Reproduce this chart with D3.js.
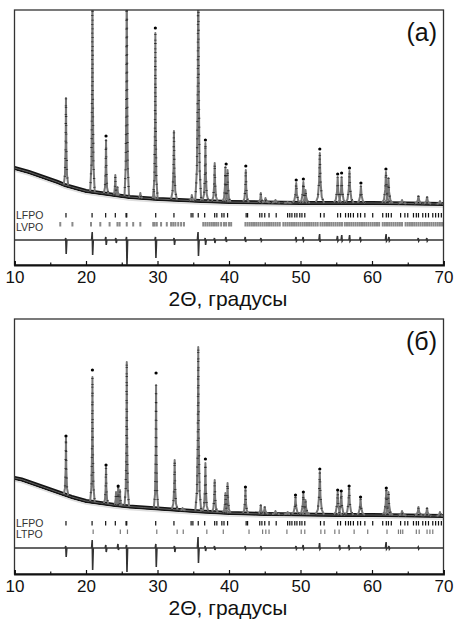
<!DOCTYPE html>
<html><head><meta charset="utf-8">
<script src="https://cdn.jsdelivr.net/npm/d3@7"></script>
<style>body{margin:0;background:#fff}svg{display:block}</style>
</head><body>
<svg id="c" width="454" height="624"></svg>
<script>
// ---------- DATA ----------
const xTicks = [10, 20, 30, 40, 50, 60, 70];
const xMinorTicks = [15, 25, 35, 45, 55, 65];
const axisTitle = "2Θ, градусы";
const panelLabels = ["(a)", "(б)"];
const phaseNamesA = ["LFPO", "LVPO"];
const phaseNamesB = ["LFPO", "LTPO"];

// panel (a): observed/calculated baseline and background [2θ, I]
const baseA = [[10,97],[11,95],[12,93],[13,90.5],[14,88],[15,85.5],[16,83],[17,80],[18,78],[19,76],[20,74],[21,73],[22,72],[24,70],[26,68],[28,67],[30,66],[33,65],[36,64],[40,63],[45,62.5],[50,62],[55,62],[60,62],[65,61.5],[70,61]];
const bgA = [[10,94],[11,92],[12,90],[13,87.5],[14,85],[15,82.5],[16,80],[17,77],[18,75],[19,73],[20,71],[21,70],[22,69],[24,67],[26,65],[28,64],[30,63],[33,62],[36,61],[40,60],[45,59.5],[50,59],[55,59],[60,59],[65,58.5],[70,58]];
// peaks [2θ, peak intensity]
const peaksA = [[17.2,167],[20.9,300],[22.8,125],[24.1,90],[24.4,78],[25.7,320],[27.6,72],[29.5,74],[29.7,232],[32.3,134],[34.8,70],[35.7,330],[36.7,122],[38.0,102],[39.5,98],[39.8,95],[42.35,95],[44.45,72],[45.1,67],[46.5,65],[48.2,63],[49.4,82],[50.4,83],[50.7,75],[52.7,112],[55.2,88],[55.75,88],[56.85,94],[58.45,79],[61.95,93],[62.3,87],[64.2,65],[66.5,69],[67.7,68],[69.5,64]];
// observed points above calculated peaks
const marksA = [[22.8,129],[29.7,237],[36.7,125],[39.6,101],[42.35,99],[49.4,85],[50.4,86],[52.7,116],[55.2,91],[55.75,92],[56.85,97],[58.45,82],[61.95,96]];
// difference spikes [2θ, up, down]
const diffA = [[17.2,2,-14],[20.9,8,-15],[22.8,3,-5],[24.2,2,-3],[25.7,3,-26],[29.75,3,-18],[32.35,2,-5],[35.7,8,-16],[36.7,2,-5],[38.0,2,-3],[39.6,3,-2],[42.3,3,-2],[44.5,2,-1],[49.4,3,-1],[50.4,3,-1],[52.7,6,-2],[55.2,4,-1],[55.8,5,-1],[56.9,5,-1],[58.4,3,-1],[62.0,6,-1],[62.4,3,-1],[66.5,2,-1],[67.7,2,-1]];

// panel (б)
const baseB = [[10,96],[11,94.5],[12,92],[13,89.5],[14,87],[15,84.5],[16,82],[17,79.5],[18,77],[19,75],[20,73],[21,72],[22,71],[24,69],[26,67.5],[28,66.5],[30,65.5],[33,64],[36,62.5],[40,61],[45,60],[50,59.5],[55,59],[60,59],[65,58.5],[70,58]];
const bgB = [[10,93],[11,91.5],[12,89],[13,86.5],[14,84],[15,81.5],[16,79],[17,76.5],[18,74],[19,72],[20,70],[21,69],[22,68],[24,66],[26,64.5],[28,63.5],[30,62.5],[33,61],[36,59.5],[40,58],[45,57],[50,56.5],[55,56],[60,56],[65,55.5],[70,55]];
const peaksB = [[17.2,136],[20.9,197],[22.8,107],[24.2,82],[24.5,87],[24.75,84],[25.7,212],[29.8,189],[32.4,114],[33.5,66],[35.7,227],[36.7,111],[38.0,94],[39.5,81],[39.8,91],[42.3,85],[44.45,69],[45.0,67],[46.5,63],[48.2,62],[49.3,77],[50.4,80],[50.7,74],[52.7,102],[55.2,82],[55.7,81],[56.8,86],[58.4,75],[62.0,84],[62.3,82],[64.2,63],[66.5,67],[67.7,66],[69.5,62]];
const marksB = [[17.2,138],[20.9,204],[22.8,109],[24.5,88],[29.8,201],[36.7,115],[42.3,87],[49.3,79],[50.4,82],[52.7,105],[55.2,84],[55.7,83],[56.8,88],[58.4,77],[62.0,86]];
const diffB = [[17.2,2,-9],[20.9,8,-22],[22.8,3,-4],[24.5,4,-2],[25.7,3,-24],[29.8,4,-19],[32.4,2,-4],[35.7,11,-15],[36.7,2,-3],[38.0,2,-2],[42.3,2,-1],[44.5,2,-1],[49.4,2,-1],[50.4,3,-1],[52.7,5,-1],[55.5,3,-1],[56.8,3,-1],[58.4,2,-1],[62.0,6,-1],[62.4,2,-1],[66.5,1,-1]];

// Bragg reflection positions (2θ)
const braggLFPO = [17.2,20.85,22.75,24.1,25.6,25.7,29.75,32.3,34.7,34.95,35.7,36.6,38.0,38.3,39.0,39.3,39.8,42.4,42.6,44.3,44.6,45.0,45.6,46.6,48.2,48.5,48.8,49.2,49.5,49.9,50.2,50.6,52.8,53.3,55.2,55.6,56.3,56.7,57.0,57.4,58.0,58.4,59.0,60.1,61.5,62.0,62.3,62.7,64.0,64.6,65.0,65.8,66.2,66.5,67.1,67.5,67.9,68.5,68.9,69.3,69.7];
const braggLVPO = [16.4,18.1,20.7,22.0,23.3,24.4,24.7,25.7,26.6,27.6,29.4,29.6,29.9,30.5,31.3,31.9,32.2,32.5,32.9,33.3,33.7,36.4,36.7,37.0,37.3,37.6,37.9,38.2,38.5,38.9,39.3,39.6,40.0,40.3,
  42.3,42.6,42.9,43.2,43.5,43.8,44.1,44.4,44.7,45.0,45.3,45.6,45.9,46.2,46.5,46.8,47.1,
  47.6,47.9,48.2,48.5,48.8,49.1,49.4,49.7,50.0,50.3,50.6,50.9,51.2,51.5,51.8,52.1,52.4,
  52.8,53.1,53.4,53.7,54.0,54.3,54.6,54.9,55.2,55.5,55.8,
  56.2,56.5,56.8,57.1,57.4,57.7,58.0,58.3,58.6,58.9,59.2,59.5,59.8,60.1,60.4,60.7,61.0,
  61.5,61.8,62.1,62.4,62.7,63.0,63.3,63.6,63.9,64.2,
  64.7,65.0,65.3,65.6,65.9,66.2,66.5,66.8,67.1,67.4,67.7,68.0,68.3,68.6,68.9,69.2,69.5,69.8];
const braggLTPO = [21.0,24.8,25.8,29.9,32.75,33.6,36.9,39.2,42.8,44.7,45.15,45.6,48.1,50.1,50.6,52.85,53.4,54.8,55.4,57.5,59.4,62.1,63.7,64.0,64.3,66.2,66.6,67.7,68.1,68.5];

// ---------- DRAWING ----------
const svg = d3.select("#c");
const FONT = "'Liberation Sans', Arial, sans-serif";
const x = d3.scaleLinear().domain([10, 70]).range([14.5, 443.5]);

const panels = [
  {label: panelLabels[0], top: 10, bottom: 265, base: baseA, bg: bgA, peaks: peaksA, marks: marksA, diff: diffA, diffOff: 25,
   rows: [{name: phaseNamesA[0], ticks: braggLFPO, y: 213, ty: 218.5, color: "#111", w: 1.2},
          {name: phaseNamesA[1], ticks: braggLVPO, y: 222, ty: 230.5, color: "#8a8a8a", w: 2}],
   labelY: 41, titleY: 306},
  {label: panelLabels[1], top: 319, bottom: 574, base: baseB, bg: bgB, peaks: peaksB, marks: marksB, diff: diffB, diffOff: 26,
   rows: [{name: phaseNamesB[0], ticks: braggLFPO, y: 521, ty: 527, color: "#111", w: 1.2},
          {name: phaseNamesB[1], ticks: braggLTPO, y: 529.5, ty: 538, color: "#7a7a7a", w: 1.2}],
   labelY: 350, titleY: 615}
];

panels.forEach((P, i) => {
  const y = d3.scaleLinear().domain([0, 255]).range([P.bottom, P.top]);
  const baseScale = d3.scaleLinear().domain(P.base.map(d => d[0])).range(P.base.map(d => d[1]));
  const clipId = "clip" + i;
  svg.append("clipPath").attr("id", clipId).append("rect")
    .attr("x", x(10)).attr("y", P.top).attr("width", x(70) - x(10)).attr("height", P.bottom - P.top);
  const g = svg.append("g").attr("clip-path", `url(#${clipId})`);
  const line = d3.line().x(d => x(d[0])).y(d => y(d[1]));

  // observed band (dense points) along the baseline
  g.append("path").datum(P.base).attr("d", line)
    .attr("fill", "none").attr("stroke", "#141414").attr("stroke-width", 4.2);
  // background curve
  g.append("path").datum(P.bg).attr("d", line)
    .attr("fill", "none").attr("stroke", "#dedede").attr("stroke-width", 1.7);
  // calculated baseline
  g.append("path").datum(P.base).attr("d", line)
    .attr("fill", "none").attr("stroke", "#6a6a6a").attr("stroke-width", 0.9);

  // peaks
  const peakPts = ([p, top]) => {
    const b = baseScale(p);
    const hw = p < 30 ? 0.32 : (p < 45 ? 0.42 : 0.6);
    const h = top - b;
    return [[p - hw, b], [p - hw * 0.45, b + h * 0.12], [p - hw * 0.15, b + h * 0.45], [p, top],
            [p + hw * 0.15, b + h * 0.45], [p + hw * 0.45, b + h * 0.12], [p + hw, b]];
  };
  g.selectAll(".pk").data(P.peaks).join("path").attr("class", "pk")
    .attr("d", d => line(peakPts(d)))
    .attr("fill", "none").attr("stroke", "#777").attr("stroke-width", 2).attr("stroke-linejoin", "round");
  // observed points on peaks
  g.selectAll(".pko").data(P.peaks).join("path").attr("class", "pko")
    .attr("d", d => line(peakPts(d)))
    .attr("fill", "none").attr("stroke", "#2a2a2a").attr("stroke-width", 2.4).attr("stroke-dasharray", "0.8,8");
  // observed points above the calculated peaks
  g.selectAll(".mk").data(P.marks).join("circle").attr("class", "mk")
    .attr("cx", d => x(d[0])).attr("cy", d => y(d[1])).attr("r", 1.6).attr("fill", "#000");

  // Bragg positions
  P.rows.forEach(r => {
    g.selectAll(null).data(r.ticks).join("line")
      .attr("x1", d => x(d)).attr("x2", d => x(d))
      .attr("y1", r.y).attr("y2", r.y + 4.5)
      .attr("stroke", r.color).attr("stroke-width", r.w);
    svg.append("text").attr("x", 16).attr("y", r.ty).text(r.name)
      .attr("font-family", FONT).attr("font-size", 10.5).attr("fill", "#333");
  });

  // difference curve
  const dpts = [[10, 0]];
  P.diff.forEach(([p, up, dn]) => {
    dpts.push([p - 0.12, 0], [p - 0.03, up], [p + 0.03, dn], [p + 0.12, 0]);
  });
  dpts.push([70, 0]);
  g.append("path").datum(dpts)
    .attr("d", d3.line().x(d => x(d[0])).y(d => y(P.diffOff + d[1])))
    .attr("fill", "none").attr("stroke", "#333").attr("stroke-width", 1.6);

  // frame
  svg.append("rect").attr("x", x(10)).attr("y", P.top)
    .attr("width", x(70) - x(10)).attr("height", P.bottom - P.top)
    .attr("fill", "none").attr("stroke", "#333").attr("stroke-width", 1.3);

  // x axis (inward ticks)
  const ax = svg.append("g").attr("transform", `translate(0,${P.bottom})`)
    .call(d3.axisBottom(x).tickValues(xTicks).tickSize(-4).tickPadding(6).tickFormat(d3.format("d")));
  ax.select(".domain").attr("stroke", "#111").attr("stroke-width", 1.8);
  ax.selectAll(".tick line").attr("stroke", "#111").attr("stroke-width", 1.2);
  ax.selectAll("text").attr("font-family", FONT).attr("font-size", 17).attr("fill", "#111");
  const axm = svg.append("g").attr("transform", `translate(0,${P.bottom})`)
    .call(d3.axisBottom(x).tickValues(xMinorTicks).tickSize(-2.5).tickFormat(""));
  axm.select(".domain").remove();
  axm.selectAll(".tick line").attr("stroke", "#111").attr("stroke-width", 1.2);

  // panel label
  svg.append("text").attr("x", 437).attr("y", P.labelY).attr("text-anchor", "end")
    .attr("font-family", FONT).attr("font-size", 25).attr("fill", "#111").text(P.label);
  // axis title
  svg.append("text").attr("x", 228).attr("y", P.titleY).attr("text-anchor", "middle")
    .attr("font-family", FONT).attr("font-size", 21).attr("fill", "#111").text(axisTitle);
});
</script>
</body></html>
